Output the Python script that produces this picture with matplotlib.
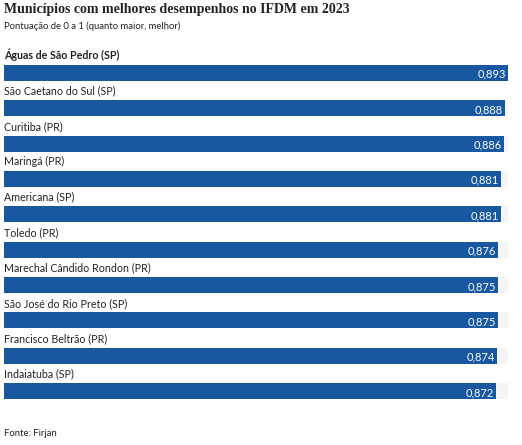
import matplotlib.pyplot as plt

municipios = ["Águas de São Pedro (SP)", "São Caetano do Sul (SP)", "Curitiba (PR)",
              "Maringá (PR)", "Americana (SP)", "Toledo (PR)",
              "Marechal Cândido Rondon (PR)", "São José do Rio Preto (SP)",
              "Francisco Beltrão (PR)", "Indaiatuba (SP)"]
ifdm = [0.893, 0.888, 0.886, 0.881, 0.881, 0.876, 0.875, 0.875, 0.874, 0.872]

blue = "#1758a0"
fig = plt.figure(figsize=(5.22, 4.45), dpi=100)
ax = fig.add_axes([4 / 522, 1 - 408.7 / 445, 504 / 522, (408.7 - 55.3) / 445])

xmax = max(ifdm)
h = 16 / 35.33
for i, (nome, v) in enumerate(zip(municipios, ifdm)):
    ax.barh(i, xmax, height=h, color="#f5f5f5")
    ax.barh(i, v, height=h, color=blue)
    ax.text(v - 0.004, i + 0.04, f"{v:.3f}".replace(".", ","), color="white",
            ha="right", va="center", fontsize=8, family="Lato")
    ax.text(0, i - h / 2 - 0.1, nome, ha="left", va="bottom", fontsize=7.7,
            family="Lato", color="#222222",
            fontweight="bold" if i == 0 else "normal")

ax.set_xlim(0, xmax)
ax.set_ylim(9.5, -0.5)
ax.axis("off")

fig.text(4 / 522, 1 - 10 / 445, "Municípios com melhores desempenhos no IFDM em 2023",
         ha="left", va="center", fontsize=10, fontweight="bold", family="Liberation Serif",
         color="#222222")
fig.text(4 / 522, 1 - 26 / 445, "Pontuação de 0 a 1 (quanto maior, melhor)",
         ha="left", va="center", fontsize=6.8, family="Lato", color="#222222")
fig.text(4 / 522, 1 - 434 / 445, "Fonte: Firjan", ha="left", va="center",
         fontsize=6.8, family="Lato", color="#222222")

fig.savefig("out.png", dpi=100)
